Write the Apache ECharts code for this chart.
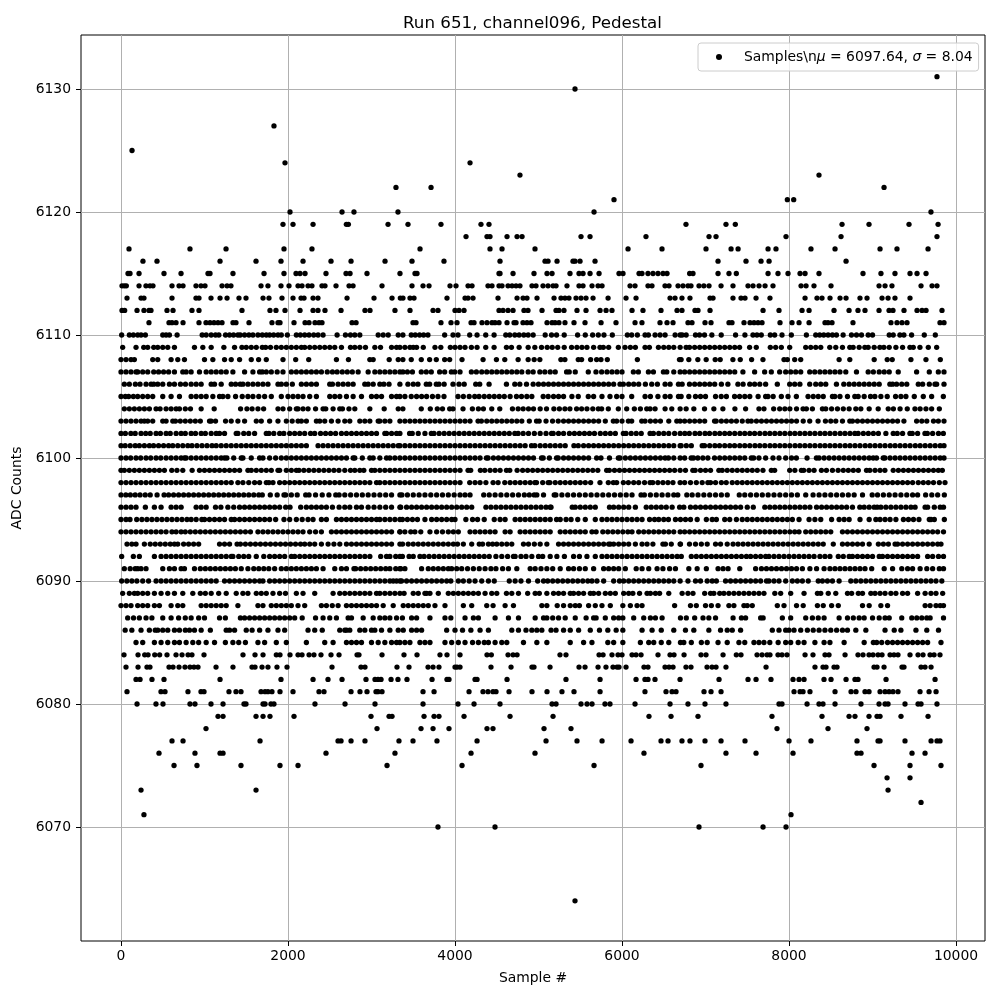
<!DOCTYPE html>
<html>
<head>
<meta charset="utf-8">
<script src="https://cdn.jsdelivr.net/npm/echarts@6/dist/echarts.min.js"></script>
<style>html,body{margin:0;background:#fff}#main{width:1000px;height:1000px}</style>
</head>
<body>
<div id="main"></div>
<script>
// sample numbers, one array per ADC level
var adc6131=[9772];
var adc6130=[5437];
var adc6127=[1832];
var adc6125=[132];
var adc6124=[1964,4180];
var adc6123=[4778,8359];
var adc6122=[3293,3713,9138];
var adc6121=[5904,7980,8056];
var adc6120=[2024,2647,2790,3317,5665,9700];
var adc6119=[1940,2060,2300,2699,2723,3198,3437,3832,4311,4407,6766,7245,7357,8635,8958,9437,9785];
var adc6118=[4132,4383,4419,4623,4743,4803,5509,5617,6287,7042,7126,7964,8623,9772];
var adc6117=[96,826,1258,1952,2287,3581,4419,4563,4958,6072,6479,7006,7306,7390,7749,7844,8263,8551,9090,9293,9665];
var adc6116=[263,431,1186,1617,1916,2180,2515,2755,3162,3485,3868,4539,5078,5114,5222,5413,5437,5497,5677,7150,7485,7665,7761,8683];
var adc6115=[84,108,216,515,719,1042,1066,1341,1713,1952,2096,2144,2204,2455,2695,2743,2946,3341,3521,3545,4527,4539,4695,4946,5102,5162,5377,5485,5533,5617,5725,5964,6012,6204,6239,6311,6371,6431,6491,6539,6810,6850,7150,7281,7369,7749,7868,7988,8132,8192,8359,8886,9101,9269,9449,9533,9641];
var adc6114=[12,40,64,216,299,347,383,611,695,743,898,958,1006,1210,1270,1317,1677,1760,1916,2012,2120,2168,2240,2287,2407,2443,2575,2731,2779,3126,3485,3617,3689,3940,4012,4156,4204,4395,4443,4527,4563,4635,4683,4731,4778,4922,4970,5054,5114,5174,5210,5341,5485,5533,5641,5713,5761,6096,6156,6311,6359,6515,6563,6671,6730,6790,6826,6922,6980,7042,7186,7329,7509,7569,7641,7713,7808,8144,8204,8299,8503,9078,9150,9233,9581,9713,9772];
var adc6113=[72,240,275,611,898,934,1078,1186,1270,1413,1497,1701,1772,1928,2060,2156,2192,2300,2359,2707,3030,3246,3345,3377,3461,3509,3904,4120,4156,4216,4515,4743,4815,4862,4982,5186,5269,5317,5365,5449,5509,5569,5653,5833,6048,6168,6575,6635,6718,6814,7054,7090,7329,7425,7473,7605,7772,8192,8335,8395,8491,8611,8683,8850,8934,9114,9186,9269,9449];
var adc6112=[12,44,192,275,335,359,551,623,850,934,1449,1784,1856,1964,2144,2300,2359,2443,2635,2922,2982,3281,3461,3737,3796,4000,4048,4108,4527,4575,4635,4695,4826,4874,5042,5210,5245,5305,5461,5569,5737,5809,5880,6120,6251,6467,6659,6718,6874,6910,7054,7689,7880,8156,8240,8539,8719,8826,8910,9078,9198,9245,9377,9533,9593,9641,9832];
var adc6111=[335,575,611,659,743,934,1018,1066,1114,1162,1210,1341,1377,1533,1808,1880,1904,2072,2204,2252,2323,2371,2407,2767,2815,3497,3533,3832,3952,4024,4192,4228,4323,4383,4443,4479,4527,4623,4707,4731,4814,4862,4910,5102,5162,5198,5245,5317,5425,5557,5749,5928,6156,6239,6455,6539,6611,6790,6838,6994,7066,7281,7317,7461,7533,7581,7629,7677,7892,8036,8120,8240,8431,8467,8515,8766,9221,9293,9353,9413,9808,9856];
var adc6110=[8,100,148,200,240,292,500,540,580,672,972,1020,1080,1132,1172,1252,1300,1348,1400,1428,1480,1532,1580,1640,1692,1740,1780,1828,1880,1920,1992,2100,2148,2200,2252,2308,2360,2420,2588,2688,2748,2800,2860,3080,3140,3200,3320,3376,3476,3524,3576,3624,3676,3876,3976,4036,4176,4264,4368,4468,4608,4656,4716,4768,4824,4876,4936,5080,5156,5216,5308,5468,5560,5648,5716,5784,5884,6064,6116,6184,6276,6316,6396,6456,6516,6636,6696,6720,6768,6880,6928,6988,7076,7188,7360,7472,7568,7616,7668,7776,7828,7916,8028,8208,8320,8368,8416,8468,8520,8568,8648,8748,8808,8868,8948,9000,9200,9248,9328,9376,9468,9620,9752];
var adc6109=[20,180,272,320,392,440,500,560,640,880,980,1080,1232,1360,1448,1500,1560,1620,1692,1732,1790,1860,1920,1980,2040,2100,2160,2200,2260,2320,2380,2440,2500,2560,2640,2748,2800,2860,2928,3040,3108,3240,3300,3340,3400,3460,3500,3540,3620,3760,3830,3944,4000,4060,4120,4196,4264,4368,4468,4616,4676,4768,4876,4956,5036,5104,5164,5230,5308,5396,5460,5520,5580,5660,5736,5776,5840,5956,6036,6100,6160,6276,6328,6436,6500,6560,6620,6696,6768,6808,6870,6930,6990,7050,7110,7170,7230,7290,7350,7408,7528,7608,7776,7840,7908,8008,8200,8260,8320,8380,8488,8560,8640,8728,8768,8840,8908,8948,9020,9088,9136,9200,9280,9360,9448,9488,9568,9668,9768];
var adc6108=[0,60,120,160,380,440,600,680,760,1000,1100,1240,1320,1420,1560,1648,1740,1940,2092,2248,2580,2724,2980,3020,3212,3320,3376,3476,3596,3696,3776,3876,3936,4084,4336,4496,4596,4756,4876,4948,5016,5268,5316,5476,5516,5624,5696,5748,5824,6184,6688,6708,6800,6908,7008,7116,7176,7328,7416,7552,7688,7940,7980,8068,8140,8600,8728,9020,9176,9236,9460,9640,9812];
var adc6107=[0,60,120,180,200,260,320,392,450,510,570,640,740,780,840,940,1020,1080,1140,1200,1260,1340,1480,1580,1660,1692,1740,1800,1870,1940,2040,2100,2160,2220,2280,2340,2400,2470,2532,2588,2650,2710,2770,2840,2960,3040,3100,3160,3220,3280,3340,3376,3430,3490,3596,3656,3716,3816,3876,3956,3996,4060,4196,4256,4320,4380,4440,4500,4560,4620,4680,4740,4800,4876,4936,5016,5076,5140,5200,5336,5368,5440,5596,5688,5756,5820,5880,5940,6000,6136,6196,6316,6376,6496,6536,6620,6696,6750,6810,6870,6930,6990,7050,7110,7170,7230,7290,7350,7448,7588,7708,7788,7888,7960,8020,8080,8140,8248,8308,8370,8430,8490,8550,8610,8680,8808,8948,9010,9080,9140,9200,9308,9528,9680,9788,9856];
var adc6106=[40,100,172,228,300,360,392,440,500,580,640,712,772,840,900,960,1080,1120,1200,1320,1372,1428,1460,1520,1580,1640,1700,1760,1880,1920,1980,2052,2160,2220,2280,2340,2500,2532,2600,2660,2720,2780,2920,2960,3020,3100,3148,3210,3340,3436,3500,3556,3656,3696,3776,3808,3870,3976,4048,4110,4248,4296,4408,4616,4716,4776,4856,4936,5000,5060,5120,5180,5240,5300,5360,5420,5480,5540,5600,5660,5720,5780,5840,5900,5976,6016,6080,6140,6200,6280,6356,6424,6516,6576,6676,6720,6808,6870,6930,6990,7050,7110,7190,7268,7388,7450,7530,7588,7650,7720,7860,8008,8068,8130,8248,8320,8380,8440,8568,8656,8720,8780,8840,8900,8960,9020,9080,9208,9240,9288,9350,9410,9548,9600,9680,9748,9768,9856];
var adc6105=[0,52,92,148,200,260,320,380,500,600,700,840,900,960,1020,1100,1180,1220,1280,1372,1452,1520,1580,1650,1720,1800,1920,2000,2060,2120,2180,2260,2340,2500,2560,2620,2700,2780,2880,3000,3060,3120,3240,3300,3340,3400,3476,3540,3600,3660,3730,3796,3868,4036,4100,4170,4236,4288,4350,4410,4470,4530,4590,4660,4736,4796,4860,4920,5056,5116,5180,5240,5300,5400,5476,5596,5660,5760,5856,5936,6000,6116,6276,6340,6430,6516,6576,6676,6708,6800,6880,6940,7000,7120,7188,7250,7348,7408,7470,7530,7630,7720,7748,7810,7908,7988,8088,8228,8290,8350,8410,8520,8548,8610,8700,8788,8828,8900,8976,9028,9100,9176,9276,9340,9400,9500,9608,9708,9848];
var adc6104=[40,100,160,220,280,340,420,468,540,600,660,700,770,832,960,1116,1432,1508,1570,1640,1708,1880,1940,2020,2100,2120,2180,2240,2330,2420,2452,2540,2620,2652,2730,2800,2980,3152,3320,3376,3596,3704,3788,3850,3936,3976,4096,4208,4280,4340,4440,4536,4688,4756,4816,4880,4940,5020,5096,5184,5250,5316,5376,5456,5516,5580,5650,5716,5756,5836,5956,6056,6148,6220,6296,6336,6396,6516,6596,6696,6768,6860,6988,7100,7208,7352,7480,7640,7700,7816,7888,7950,8010,8090,8168,8208,8280,8400,8440,8510,8580,8650,8720,8800,8860,8960,9068,9188,9250,9330,9416,9508,9570,9640,9708,9800];
var adc6103=[0,60,120,180,240,280,320,380,500,540,620,652,710,770,830,890,950,1060,1080,1132,1252,1320,1400,1480,1620,1680,1780,1880,1980,2050,2120,2160,2220,2340,2380,2440,2520,2600,2680,2740,2860,2920,2980,3080,3100,3160,3220,3340,3400,3460,3520,3580,3640,3700,3760,3820,3880,3940,4000,4060,4120,4180,4276,4316,4380,4440,4500,4560,4620,4680,4740,4800,4890,4976,5008,5090,5168,5236,5300,5360,5420,5480,5540,5600,5660,5720,5800,5896,5936,6000,6076,6116,6236,6276,6340,6400,6460,6560,6656,6696,6750,6810,6870,6930,6990,7108,7128,7190,7250,7310,7370,7440,7508,7548,7610,7670,7730,7790,7850,7910,7970,8030,8090,8170,8248,8348,8436,8500,8560,8640,8728,8760,8820,8880,8940,9000,9060,9120,9180,9240,9300,9376,9528,9590,9650,9730,9788,9856];
var adc6102=[0,52,118,170,240,296,350,420,472,540,590,660,720,770,840,892,960,1010,1080,1140,1180,1240,1380,1400,1470,1530,1600,1740,1772,1830,1900,1950,2020,2080,2140,2200,2270,2320,2390,2450,2510,2570,2640,2700,2760,2820,2880,2940,3000,3060,3160,3180,3240,3300,3340,3456,3488,3560,3640,3716,3748,3810,3870,3930,3990,4050,4110,4170,4230,4290,4350,4410,4470,4530,4590,4650,4716,4756,4816,4880,4950,5020,5090,5156,5176,5240,5300,5370,5430,5490,5550,5610,5670,5740,5800,5860,5920,6016,6048,6110,6170,6230,6336,6376,6440,6500,6560,6630,6696,6752,6806,6874,6930,6994,7048,7112,7170,7230,7288,7350,7412,7470,7530,7588,7650,7712,7770,7830,7890,7950,8012,8070,8130,8190,8250,8310,8372,8430,8490,8550,8612,8670,8730,8788,8828,8890,8950,9010,9070,9160,9248,9296,9360,9448,9476,9540,9628,9656,9720,9790,9848];
var adc6101=[0,50,110,170,220,280,340,390,450,510,570,620,680,740,800,850,910,970,1030,1090,1140,1200,1260,1320,1380,1440,1500,1560,1620,1680,1740,1800,1860,1920,1980,2040,2100,2160,2220,2360,2420,2480,2540,2600,2660,2720,2780,2840,2900,2960,3020,3080,3140,3200,3260,3320,3340,3400,3460,3520,3580,3640,3700,3760,3820,3880,3940,4000,4060,4120,4180,4240,4300,4360,4420,4480,4540,4600,4660,4720,4780,4840,4916,4956,5020,5080,5140,5200,5260,5320,5424,5476,5540,5600,5660,5720,5780,5840,5900,5960,6020,6080,6140,6200,6260,6320,6380,6440,6500,6560,6620,6696,6708,6770,6830,6960,6988,7050,7112,7168,7230,7290,7348,7410,7470,7530,7592,7650,7710,7772,7830,7890,7950,8010,8072,8130,8190,8250,8310,8372,8430,8490,8550,8610,8672,8730,8790,8850,8912,8970,9030,9090,9150,9212,9270,9330,9390,9450,9512,9570,9630,9690,9750,9810,9856];
var adc6100=[0,60,116,180,236,300,356,420,476,540,600,660,720,760,780,840,900,960,1020,1080,1140,1200,1240,1268,1350,1440,1460,1560,1660,1700,1780,1852,1920,1980,2040,2100,2160,2220,2280,2340,2400,2460,2520,2580,2640,2700,2780,2800,2890,2980,3020,3100,3180,3220,3280,3340,3400,3460,3520,3580,3640,3700,3760,3820,3880,3940,4000,4060,4120,4180,4240,4300,4376,4396,4460,4520,4580,4640,4700,4760,4820,4880,4940,5036,5056,5130,5216,5236,5300,5360,5420,5480,5540,5600,5696,5748,5850,5956,5976,6040,6100,6160,6220,6280,6340,6400,6460,6516,6556,6620,6696,6750,6828,6856,6908,6968,7028,7108,7170,7230,7290,7350,7410,7470,7548,7576,7640,7720,7808,7880,7960,8030,8088,8216,8328,8360,8420,8480,8540,8600,8660,8720,8780,8840,8900,8960,9008,9048,9128,9148,9210,9270,9330,9390,9450,9510,9570,9630,9690,9750,9810,9856];
var adc6099=[0,40,100,160,220,280,340,400,460,520,608,670,740,852,940,1000,1060,1120,1180,1240,1300,1360,1420,1520,1560,1620,1680,1740,1800,1880,1900,1980,2040,2100,2132,2190,2250,2310,2370,2430,2490,2550,2610,2680,2748,2800,2860,2908,3000,3040,3100,3160,3220,3280,3340,3400,3460,3520,3580,3640,3700,3760,3820,3880,3940,4000,4060,4156,4188,4304,4356,4420,4480,4540,4616,4656,4744,4810,4870,4930,4990,5050,5110,5170,5230,5290,5350,5410,5470,5530,5590,5650,5710,5816,5848,5910,5970,6030,6090,6150,6210,6270,6330,6390,6450,6510,6570,6630,6696,6760,6848,6876,6940,7000,7060,7160,7200,7260,7320,7380,7440,7500,7560,7620,7688,7788,7828,8008,8070,8148,8176,8240,8300,8388,8448,8520,8588,8650,8710,8770,8830,8928,8968,9030,9090,9148,9248,9310,9370,9430,9490,9550,9610,9670,9730,9788,9836];
var adc6098=[0,60,120,180,240,300,360,420,480,540,600,660,720,780,840,900,960,1020,1080,1140,1200,1260,1320,1400,1460,1530,1600,1660,1740,1772,1820,1900,1960,2020,2080,2140,2200,2260,2320,2380,2440,2500,2560,2620,2680,2740,2800,2860,2920,2980,3060,3100,3160,3220,3280,3340,3400,3460,3520,3580,3640,3700,3760,3820,3880,3940,4000,4060,4176,4240,4300,4370,4456,4516,4596,4660,4720,4780,4840,4900,4956,4976,5050,5116,5136,5200,5260,5320,5380,5440,5500,5560,5624,5736,5836,5896,5936,6016,6076,6140,6200,6270,6336,6368,6430,6490,6550,6610,6696,6750,6820,6890,6960,7028,7060,7120,7190,7248,7320,7380,7440,7500,7560,7620,7680,7740,7800,7860,7920,7980,8040,8100,8160,8220,8280,8340,8400,8460,8520,8580,8640,8700,8760,8820,8880,8940,9000,9060,9120,9180,9240,9300,9360,9420,9480,9548,9608,9668,9730,9800,9868];
var adc6097=[0,58,112,170,228,290,350,432,516,570,630,690,750,810,870,930,990,1050,1110,1170,1230,1290,1350,1410,1470,1530,1590,1650,1692,1788,1870,1952,1972,2040,2110,2212,2252,2330,2410,2490,2572,2612,2680,2750,2820,2890,2960,3030,3100,3170,3240,3340,3364,3430,3500,3570,3640,3710,3780,3850,3920,3990,4060,4120,4180,4344,4410,4480,4550,4620,4690,4760,4830,4890,4948,4980,5060,5188,5208,5280,5350,5420,5490,5560,5630,5700,5770,5840,5910,5980,6050,6120,6228,6268,6340,6410,6480,6550,6620,6668,6776,6840,6910,6980,7050,7120,7190,7260,7404,7470,7540,7610,7680,7750,7820,7890,7960,8030,8100,8200,8288,8360,8430,8500,8570,8640,8710,8780,8880,8996,9060,9130,9200,9270,9340,9410,9480,9540,9636,9710,9780,9860];
var adc6096=[0,60,120,180,292,400,480,600,660,720,900,960,1020,1132,1196,1280,1350,1420,1480,1540,1600,1660,1720,1780,1840,1900,1972,2024,2152,2220,2280,2340,2400,2460,2532,2612,2680,2740,2820,2880,2960,3030,3100,3170,3240,3340,3350,3420,3480,3540,3600,3660,3720,3780,3840,3900,3960,4020,4080,4140,4200,4370,4430,4490,4550,4610,4670,4730,4790,4850,4910,4970,5030,5090,5150,5404,5140,5440,5500,5560,5620,5680,5850,5900,5960,6020,6080,6160,6290,6350,6410,6470,6530,6600,6690,6740,6820,6880,6940,7000,7060,7120,7180,7240,7300,7360,7420,7500,7572,7710,7770,7830,7890,7950,8010,8070,8130,8190,8250,8330,8390,8450,8510,8570,8630,8690,8760,8848,8900,8960,9020,9056,9100,9160,9220,9280,9340,9400,9460,9510,9630,9660,9740,9810,9850];
var adc6095=[0,60,108,188,250,310,370,430,490,550,610,670,730,790,840,900,968,1000,1060,1120,1180,1240,1320,1360,1420,1480,1540,1600,1660,1720,1780,1852,1952,2020,2100,2170,2240,2300,2400,2460,2580,2640,2700,2760,2820,2880,2940,3000,3060,3100,3160,3220,3280,3340,3370,3430,3490,3550,3640,3720,3780,3840,3900,3960,4000,4130,4210,4270,4350,4470,4540,4600,4720,4780,4840,4900,4960,5020,5080,5140,5216,5260,5330,5390,5470,5560,5680,5760,5820,5880,5940,6000,6060,6120,6180,6240,6330,6390,6440,6500,6556,6640,6700,6760,6820,6900,7010,7080,7130,7230,7290,7370,7440,7500,7560,7620,7680,7740,7800,7860,7920,7980,8040,8120,8240,8310,8380,8510,8600,8660,8720,8850,8960,9040,9090,9150,9210,9280,9370,9430,9490,9556,9680,9740,9700,9860];
var adc6094=[0,60,120,180,240,300,360,420,480,540,610,660,720,770,830,890,950,1010,1070,1130,1190,1250,1310,1370,1430,1490,1550,1640,1700,1760,1820,1880,1940,2000,2060,2120,2180,2260,2330,2400,2520,2580,2640,2700,2760,2820,2880,2940,3000,3060,3120,3180,3240,3340,3340,3400,3470,3520,3590,3700,3780,3850,3920,3980,4040,4180,4240,4300,4360,4420,4480,4600,4660,4780,4840,4900,4960,5020,5080,5140,5260,5320,5380,5440,5500,5560,5640,5690,5770,5830,5890,5950,6010,6070,6120,6200,6260,6320,6380,6440,6500,6560,6620,6696,6750,6810,6870,6930,6990,7050,7110,7170,7230,7290,7350,7410,7470,7530,7590,7650,7710,7770,7830,7890,7950,8010,8068,8120,8200,8260,8320,8380,8440,8500,8640,8700,8760,8820,8880,8940,9000,9060,9120,9180,9240,9300,9360,9420,9480,9540,9600,9660,9720,9780,9850];
var adc6093=[72,130,180,280,350,410,470,530,590,640,680,750,810,870,930,1180,1240,1300,1390,1430,1490,1550,1610,1670,1730,1790,1850,1910,1970,2030,2090,2150,2200,2260,2320,2400,2480,2550,2620,2700,2760,2820,2880,2940,3000,3060,3120,3180,3240,3340,3372,3440,3500,3560,3620,3680,3740,3800,3860,3920,3980,4030,4100,4200,4290,4330,4400,4450,4500,4560,4620,4680,4820,4880,4950,5020,5100,5240,5300,5360,5420,5480,5540,5600,5660,5720,5780,5840,5860,5900,5960,6020,6080,6160,6240,6300,6370,6490,6520,6590,6696,6700,6808,6880,6950,7020,7120,7180,7260,7330,7390,7450,7510,7570,7630,7690,7750,7810,7870,7930,7990,8050,8110,8170,8230,8290,8350,8410,8530,8640,8700,8760,8820,8880,8960,9070,9130,9190,9270,9300,9360,9420,9480,9540,9600,9660,9720,9780,9820];
var adc6092=[8,148,220,400,480,540,600,660,720,780,840,900,960,1020,1080,1140,1200,1260,1320,1340,1410,1470,1530,1620,1710,1780,1840,1900,1960,2040,2080,2140,2200,2260,2320,2380,2440,2500,2560,2620,2680,2740,2800,2860,2920,2980,3110,3180,3220,3290,3340,3370,3450,3500,3580,3630,3690,3750,3810,3870,3930,3990,4050,4110,4170,4230,4290,4350,4410,4490,4560,4630,4700,4720,4790,4850,4920,5000,5050,5140,5220,5310,5420,5490,5580,5680,5760,5820,5880,5940,6000,6060,6120,6180,6240,6300,6360,6420,6480,6540,6600,6660,6710,6830,6890,6950,7010,7070,7130,7190,7250,7310,7370,7430,7490,7540,7600,7660,7720,7760,7820,7880,7940,8000,8060,8120,8180,8240,8300,8370,8430,8490,8590,8650,8720,8760,8820,8880,8940,9000,9080,9120,9180,9240,9300,9360,9420,9480,9540,9660,9720,9790,9850];
var adc6091=[40,110,170,200,240,300,500,580,640,720,760,880,950,1010,1070,1130,1190,1250,1310,1370,1440,1520,1590,1650,1710,1770,1840,1920,1980,2040,2100,2160,2220,2280,2340,2420,2560,2640,2700,2790,2810,2870,2930,2990,3050,3110,3170,3220,3290,3340,3350,3400,3600,3680,3740,3800,3860,3920,3960,4020,4080,4150,4220,4290,4360,4430,4490,4570,4640,4740,4900,4960,5030,5100,5170,5260,5360,5420,5490,5560,5660,5780,5840,5900,5960,6040,6170,6240,6320,6420,6490,6570,6640,6800,6900,7010,7150,7210,7270,7410,7600,7670,7730,7790,7850,7910,7970,8030,8090,8160,8250,8330,8420,8490,8550,8610,8670,8730,8790,8850,8910,8990,9140,9240,9350,9420,9480,9570,9650,9720,9800,9850];
var adc6090=[8,70,130,190,260,330,420,480,540,600,660,720,780,840,900,960,1020,1080,1140,1240,1300,1360,1420,1480,1540,1600,1660,1700,1780,1840,1900,1960,2020,2080,2140,2200,2260,2320,2380,2440,2500,2560,2620,2680,2740,2800,2860,2920,2980,3040,3100,3160,3220,3260,3300,3340,3360,3420,3480,3540,3600,3660,3720,3780,3840,3900,3950,4040,4100,4170,4240,4320,4400,4470,4650,4720,4790,4880,4990,5060,5110,5170,5230,5290,5350,5410,5470,5530,5590,5640,5700,5780,5900,5970,6020,6080,6140,6200,6260,6320,6380,6440,6500,6560,6620,6696,6790,6880,6940,7020,7080,7130,7240,7300,7360,7420,7480,7540,7600,7660,7730,7760,7820,7880,7960,8040,8100,8160,8230,8350,8400,8460,8520,8600,8740,8800,8860,8920,8980,9040,9100,9160,9220,9280,9340,9400,9460,9520,9580,9640,9700,9760,9830];
var adc6089=[20,100,160,200,260,320,400,480,560,640,740,860,950,1010,1080,1170,1260,1380,1460,1520,1620,1680,1740,1820,1900,1970,2100,2180,2320,2540,2620,2680,2740,2800,2860,2920,2980,3060,3100,3160,3220,3280,3340,3390,3500,3560,3640,3660,3700,3800,3920,3980,4040,4100,4160,4220,4280,4360,4440,4500,4616,4680,4760,4870,4960,5010,5100,5180,5240,5300,5380,5420,5480,5540,5620,5660,5720,5800,5860,5920,6020,6080,6130,6210,6300,6340,6400,6450,6560,6720,6790,6850,6990,7060,7100,7170,7220,7280,7340,7400,7460,7520,7580,7640,7700,7830,7900,8020,8180,8340,8380,8470,8560,8700,8750,8830,8880,8980,9030,9090,9150,9220,9280,9360,9420,9540,9630,9700,9760,9840];
var adc6088=[0,60,120,200,260,320,400,460,600,680,740,960,1020,1080,1140,1200,1260,1400,1640,1700,1800,1860,1920,1980,2040,2120,2200,2400,2460,2530,2600,2700,2760,2820,2880,2940,3000,3060,3140,3260,3380,3440,3500,3560,3620,3680,3760,3880,4100,4200,4380,4456,4600,4700,5040,5100,5224,5300,5380,5440,5490,5600,5680,5760,5860,6010,6100,6180,6240,6630,6820,6890,7000,7070,7150,7280,7340,7460,7500,7560,7860,7940,8090,8170,8340,8410,8510,8590,8880,8960,9100,9180,9630,9690,9760,9810,9850];
var adc6087=[80,150,220,300,370,500,600,690,770,840,930,1000,1180,1250,1430,1480,1540,1600,1660,1720,1780,1840,1900,1960,2020,2080,2170,2330,2420,2500,2580,2720,2760,2900,3020,3100,3160,3220,3300,3370,3480,3540,3700,3880,3950,4120,4220,4280,4480,4640,4760,4960,5060,5100,5170,5240,5320,5440,5570,5660,5690,5800,5900,5960,6010,6140,6260,6340,6400,6480,6700,6770,6870,6970,7040,7120,7330,7430,7480,7660,7690,7920,8020,8200,8280,8350,8420,8600,8700,8770,8840,8900,9000,9080,9150,9200,9350,9470,9530,9590,9650,9690,9850];
var adc6086=[50,130,240,340,410,440,500,560,640,700,770,820,880,960,1070,1260,1300,1360,1500,1570,1660,1760,1880,1960,2240,2320,2410,2620,2680,2700,2740,2860,2920,3000,3040,3120,3220,3320,3380,3480,3540,3600,3900,4000,4090,4190,4300,4400,4680,4760,4850,4920,4980,5040,5150,5210,5300,5380,5480,5620,5730,5830,5930,6010,6240,6360,6470,6620,6760,6860,7040,7180,7260,7320,7420,7800,7880,7960,8000,8060,8140,8220,8290,8360,8430,8500,8570,8640,8700,8800,8920,9150,9260,9340,9520,9650,9790];
var adc6085=[180,260,400,480,560,640,700,780,860,930,1020,1120,1250,1340,1410,1490,1640,1720,1860,1980,2220,2440,2540,2700,2760,2820,2880,3000,3080,3160,3240,3300,3340,3400,3460,3580,3640,3700,3880,3960,4040,4120,4210,4280,4350,4400,4480,4560,4620,4820,4980,5100,5380,5540,5640,5830,5900,6010,6220,6320,6380,6470,6560,6700,6740,6830,6950,7020,7150,7260,7400,7470,7580,7640,7700,7770,7870,7960,8020,8110,8180,8310,8420,8490,8660,8900,9010,9050,9110,9180,9240,9300,9360,9420,9480,9540,9600,9660,9820];
var adc6084=[36,204,284,324,404,463,551,659,731,803,850,994,1461,1605,1701,1860,1904,2024,2120,2168,2252,2311,2395,2515,2611,2827,2850,3126,3389,3545,3820,3904,4060,4383,4435,4635,4695,4743,5257,5329,5725,5773,5880,5952,6000,6120,6168,6228,6431,6575,6623,6743,6946,7006,7210,7369,7425,7617,7677,7737,7772,7868,7916,7976,8192,8287,8431,8479,8671,8826,8886,8958,9006,9066,9114,9210,9257,9305,9449,9545,9605,9689,9737,9808];
var adc6083=[60,204,311,347,575,623,695,766,826,874,922,1138,1341,1569,1605,1689,1760,1868,1988,2527,2874,2922,3305,3449,3677,3737,3808,4000,4024,4060,4431,4671,4922,4946,5138,5485,5557,5713,5808,5892,5940,5964,6048,6263,6311,6515,6563,6611,6766,6826,7018,7078,7126,7245,7725,8311,8407,8443,8539,8575,9018,9054,9138,9353,9377,9581,9629,9701];
var adc6082=[180,228,371,515,1186,1916,2300,2479,2647,2934,3042,3078,3114,3234,3317,3425,3725,3904,3928,4240,4264,4623,5329,5737,6168,6275,6311,6395,6695,7162,7509,7605,7784,8048,8120,8180,8419,8503,8683,8790,8826,9162,9749];
var adc6081=[72,479,527,802,958,994,1293,1377,1437,1677,1725,1760,1808,1904,2060,2371,2431,2755,2862,2946,3054,3078,3126,3617,3749,4168,4335,4395,4455,4491,4647,4922,5102,5281,5425,5737,6275,6527,6599,6647,6982,7066,7186,8060,8132,8168,8251,8551,8743,8802,8910,8958,9090,9150,9198,9245,9305,9569,9677,9761];
var adc6080=[192,419,503,826,886,1078,1222,1473,1497,1701,1725,1796,1832,2323,2683,3042,3617,4036,4228,4539,5162,5210,5509,5581,5641,5796,5856,6156,6575,6790,6994,7245,7880,7916,8216,8359,8407,8551,8862,9078,9150,9186,9389,9545,9581,9772];
var adc6079=[1162,1222,1617,1701,1784,2072,2994,3210,3246,3629,3749,3808,4108,4659,5174,6323,6587,6910,7796,8395,8719,8790,8958,9054,9090,9341,9665];
var adc6078=[1018,3066,3593,3737,3928,4383,4455,5066,5389,7856,8467,8934];
var adc6077=[611,743,1665,2599,2635,2755,2922,3329,3497,3784,4264,5090,5461,5761,6108,6467,6551,6718,6814,6994,7186,7473,8000,8263,8814,9066,9090,9389,9701,9772,9808];
var adc6076=[455,886,1186,1222,2455,3281,4192,4958,6263,7245,7605,8048,8814,8862,9473,9629];
var adc6075=[635,910,1437,1904,2120,3186,4084,5665,6946,9018,9449,9820];
var adc6074=[9174,9449];
var adc6073=[240,1617,9186];
var adc6072=[9581];
var adc6071=[275,8024];
var adc6070=[3796,4479,6922,7689,7964];
var adc6064=[5437];

var levels=[6131,6130,6127,6125,6124,6123,6122,6121,6120,6119,6118,6117,6116,6115,6114,6113,6112,6111,6110,6109,6108,6107,6106,6105,6104,6103,6102,6101,6100,6099,6098,6097,6096,6095,6094,6093,6092,6091,6090,6089,6088,6087,6086,6085,6084,6083,6082,6081,6080,6079,6078,6077,6076,6075,6074,6073,6072,6071,6070,6064];
var samples=[adc6131,adc6130,adc6127,adc6125,adc6124,adc6123,adc6122,adc6121,adc6120,adc6119,adc6118,adc6117,adc6116,adc6115,adc6114,adc6113,adc6112,adc6111,adc6110,adc6109,adc6108,adc6107,adc6106,adc6105,adc6104,adc6103,adc6102,adc6101,adc6100,adc6099,adc6098,adc6097,adc6096,adc6095,adc6094,adc6093,adc6092,adc6091,adc6090,adc6089,adc6088,adc6087,adc6086,adc6085,adc6084,adc6083,adc6082,adc6081,adc6080,adc6079,adc6078,adc6077,adc6076,adc6075,adc6074,adc6073,adc6072,adc6071,adc6070,adc6064];
var xTicks=[0,2000,4000,6000,8000,10000];
var yTicks=[6070,6080,6090,6100,6110,6120,6130];

var points=[];
levels.forEach(function(lv,i){
    samples[i].forEach(function(s){ points.push([s,lv]); });
});

var fontName='"DejaVu Sans"';
var seriesName='Samples\\nμ = 6097.64, σ = 8.04';
var plainNumber=function(v){ return String(v); };
var myChart=echarts.init(document.getElementById('main'),null,{renderer:'canvas'});
myChart.setOption({
    animation:false,
    backgroundColor:'#fff',
    textStyle:{fontFamily:fontName},
    title:{
        text:'Run 651, channel096, Pedestal',
        left:527.5,top:10,textAlign:'center',
        textStyle:{fontFamily:fontName,fontSize:16.7,fontWeight:'normal',color:'#000'}
    },
    legend:{
        left:698,top:43,
        padding:[0,6,0,18],
        itemWidth:6,itemHeight:6,
        icon:'circle',
        backgroundColor:'rgba(255,255,255,0.8)',
        borderColor:'#ccc',borderWidth:1,borderRadius:3,
        data:[seriesName],
        formatter:function(){
            return 'Samples\\n{i|μ} = 6097.64, {i|σ} = 8.04';
        },
        textStyle:{
            fontFamily:fontName,fontSize:13.9,color:'#000',lineHeight:28,padding:[0,0,0,17],
            rich:{i:{fontFamily:fontName,fontStyle:'italic',fontSize:13.9,color:'#000'}}
        }
    },
    grid:{left:81,right:15,top:35,bottom:59,show:true,borderColor:'#000',borderWidth:1,backgroundColor:'#fff'},
    xAxis:{
        type:'value',min:-479,max:10347,interval:2000,
        name:'Sample #',nameLocation:'middle',nameGap:30,
        nameTextStyle:{fontFamily:fontName,fontSize:13.9,color:'#000'},
        axisLine:{show:false,onZero:false},
        axisTick:{show:true,length:5,lineStyle:{color:'#000'},customValues:xTicks},
        axisLabel:{fontFamily:fontName,fontSize:13.9,color:'#000',margin:8,customValues:xTicks,formatter:plainNumber},
        splitLine:{show:true,lineStyle:{color:'#b0b0b0',width:1}}
    },
    yAxis:{
        type:'value',min:6060.73,max:6134.39,interval:10,
        name:'ADC Counts',nameLocation:'middle',nameGap:49,
        nameTextStyle:{fontFamily:fontName,fontSize:13.9,color:'#000'},
        axisLine:{show:false,onZero:false},
        axisTick:{show:true,length:5,lineStyle:{color:'#000'},customValues:yTicks},
        axisLabel:{fontFamily:fontName,fontSize:13.9,color:'#000',margin:10,customValues:yTicks,formatter:plainNumber},
        splitLine:{show:true,lineStyle:{color:'#b0b0b0',width:1}}
    },
    series:[{
        name:seriesName,
        type:'scatter',
        symbol:'circle',
        symbolSize:5.3,
        itemStyle:{color:'#000',opacity:1},
        data:points
    }]
});
</script>
</body>
</html>
